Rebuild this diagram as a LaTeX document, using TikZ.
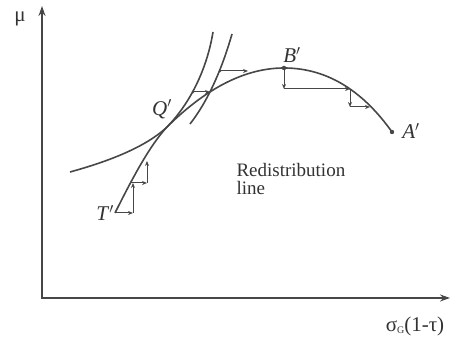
\documentclass[tikz,border=0pt]{standalone}
\usepackage{fontspec}
\setmainfont{Liberation Serif}
\usetikzlibrary{arrows.meta}
\definecolor{ink}{gray}{0.28}
\tikzset{>={Stealth[length=5pt,width=4pt]},every node/.style={font=\fontsize{19}{18}\selectfont,text=ink!70!black},
 axis/.style={line width=1.9pt,draw=ink,-{Stealth[length=10pt,width=7pt]}},
 curve/.style={line width=1.6pt,draw=ink},move/.style={line width=1pt,draw=ink,->},
 pointlabel/.style={font=\fontsize{21}{21}\selectfont,text=ink!70!black},
 dot/.style={fill=ink}}

\begin{document}
\begin{tikzpicture}[x=1pt,y=1pt]
\useasboundingbox (0,0) rectangle (451,339);
% axes
\coordinate (O) at (42,41);
\coordinate (ytop) at (42,333);
\coordinate (xend) at (450,41);
\draw[axis] (42,40) -- (ytop);
\draw[axis] (O) -- (xend);
\node (mu) [pointlabel] at (20,320) {μ};
\node (sg) [pointlabel] at (415,13) {σ\raisebox{-2pt}{\fontsize{10}{10}\selectfont G}(1-τ)};
% points on the redistribution line
\coordinate (T) at (115,126);
\coordinate (Q) at (166,211);
\coordinate (B) at (284,271);
\coordinate (A) at (392,207);
\draw[curve] (T) .. controls (135,166) and (150,193) .. (Q)
 .. controls (200,245) and (240,271) .. (B)
 .. controls (330,271) and (365,245) .. (A);
% indifference curves
\draw[curve] (70,167) .. controls (110,178) and (145,192) .. (Q)
 .. controls (190,235) and (207,270) .. (213,307);
\draw[curve] (190,215) .. controls (208,238) and (222,270) .. (232,305);
% steps from T'
\coordinate (t1) at (133,126);
\coordinate (t2) at (133,156);
\coordinate (t3) at (147,156);
\coordinate (t4) at (147,178);
\draw[move] (T) -- (t1);
\draw[move] (t1) -- (t2);
\draw[move] ([xshift=-2pt]t2) -- (t3);
\draw[move] (t3) -- (t4);
% moves between the indifference curves
\coordinate (i1) at (193,247);
\coordinate (i2) at (210,247);
\coordinate (i3) at (220,268);
\coordinate (i4) at (248,268);
\draw[move] (i1) -- (i2);
\draw[move] (i3) -- (i4);
% steps from B'
\coordinate (b1) at (284,250);
\coordinate (b2) at (350,250);
\coordinate (b3) at (350,232);
\coordinate (b4) at (370,232);
\draw[move] (B) -- (b1);
\draw[move] (b1) -- (b2);
\draw[move] (b2) -- (b3);
\draw[move] (b3) -- (b4);
\fill[dot] (B) circle (2.2pt);
\fill[dot] (A) circle (2.2pt);
\fill[dot] (i1) circle (1.4pt);
\fill[dot] (i3) circle (1.4pt);
% labels
\node (Tl) [pointlabel,left,inner sep=1pt] at (T) {\textit{T}$'$};
\node (Ql) [pointlabel] at (162,230) {\textit{Q}$'$};
\node (Bl) [pointlabel] at (292,284) {\textit{B}$'$};
\node (Al) [pointlabel] at (411,208) {\textit{A}$'$};
\node (rl) [anchor=west,align=left] at (233,160) {Redistribution\\line};
\end{tikzpicture}
\end{document}
